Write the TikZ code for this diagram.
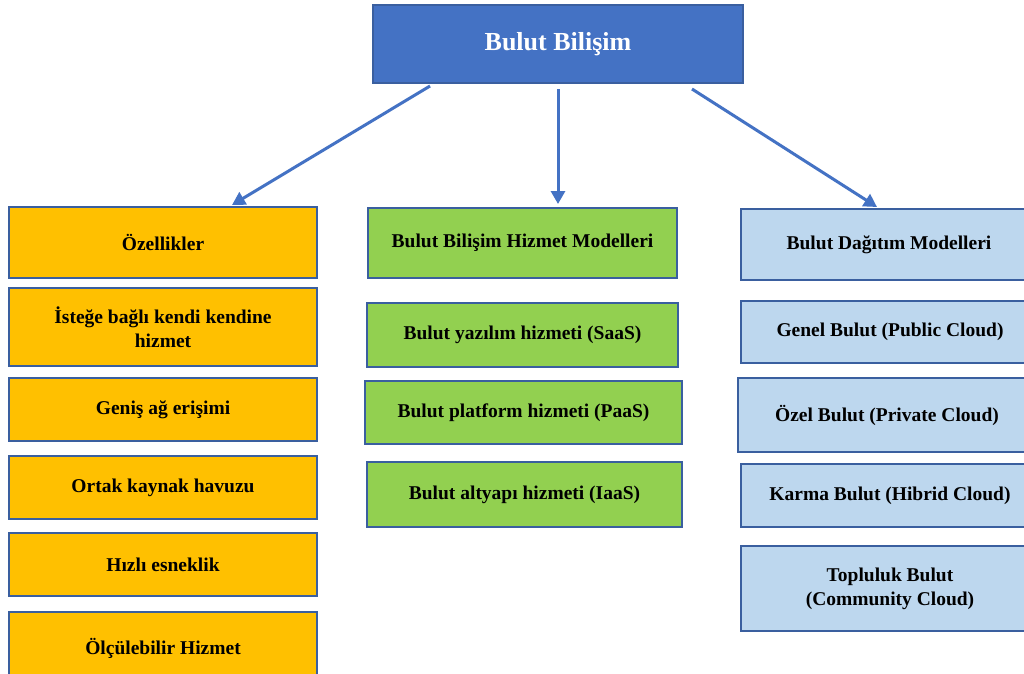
\documentclass[tikz,border=0pt]{standalone}
\usepackage{fontspec}
\setmainfont{Liberation Serif}
\usetikzlibrary{arrows.meta,calc}
\definecolor{topblue}{HTML}{4472C4}
\definecolor{edge}{HTML}{3A5F9F}
\definecolor{org}{HTML}{FFC000}
\definecolor{grn}{HTML}{92D050}
\definecolor{lblue}{HTML}{BDD7EE}
\definecolor{arrcol}{HTML}{4472C4}
\tikzset{
  box/.style={draw=edge, line width=2pt, inner sep=0pt, align=center,
    font=\fontsize{19.5}{24}\selectfont\bfseries, text=black},
  arr/.style={draw=arrcol, line width=3pt, -{Triangle[width=14pt,length=13pt]}}
}
\begin{document}
\begin{tikzpicture}[x=1pt,y=-1pt]
\useasboundingbox (0,0) rectangle (1024,673);
\clip (0,0) rectangle (1024,673);
\fill[white] (0,0) rectangle (1024,673);
% title
\node[box, fill=topblue, text=white, font=\fontsize{26}{30}\selectfont\bfseries,
  minimum width=370pt, minimum height=78pt] (top) at (558,44) {Bulut Bilişim};
% left column
\node[box, fill=org, minimum width=308pt, minimum height=71pt] (l1) at (163,242.5) {Özellikler};
\node[box, fill=org, minimum width=308pt, minimum height=78pt] (l2) at (163,327) {İsteğe bağlı kendi kendine\\hizmet};
\node[box, fill=org, minimum width=308pt, minimum height=63pt] (l3) at (163,409.5) {Geniş ağ erişimi};
\node[box, fill=org, minimum width=308pt, minimum height=63pt] (l4) at (163,487.5) {Ortak kaynak havuzu};
\node[box, fill=org, minimum width=308pt, minimum height=63pt] (l5) at (163,564.5) {Hızlı esneklik};
\node[box, fill=org, minimum width=308pt, minimum height=72pt] (l6) at (163,648) {Ölçülebilir Hizmet};
% middle column
\node[box, fill=grn, minimum width=309pt, minimum height=70pt] (m1) at (522.5,243) {Bulut Bilişim Hizmet Modelleri};
\node[box, fill=grn, minimum width=311pt, minimum height=64pt] (m2) at (522.5,335) {Bulut yazılım hizmeti (SaaS)};
\node[box, fill=grn, minimum width=317pt, minimum height=63pt] (m3) at (523.5,412.5) {Bulut platform hizmeti (PaaS)};
\node[box, fill=grn, minimum width=315pt, minimum height=65pt] (m4) at (524.5,494.5) {Bulut altyapı hizmeti (IaaS)};
% right column
\node[box, fill=lblue, minimum width=296pt, minimum height=71pt] (r1) at (889,244.5) {Bulut Dağıtım Modelleri};
\node[box, fill=lblue, minimum width=298pt, minimum height=62pt] (r2) at (890,332) {Genel Bulut (Public Cloud)};
\node[box, fill=lblue, minimum width=298pt, minimum height=74pt] (r3) at (887,415) {Özel Bulut (Private Cloud)};
\node[box, fill=lblue, minimum width=298pt, minimum height=63pt] (r4) at (890,495.5) {Karma Bulut (Hibrid Cloud)};
\node[box, fill=lblue, minimum width=298pt, minimum height=85pt] (r5) at (890,588.5) {Topluluk Bulut\\(Community Cloud)};
% connectors
\coordinate (s1) at ($(top.south west)+(58,2)$);
\coordinate (s2) at ($(top.south west)+(186,5)$);
\coordinate (s3) at ($(top.south west)+(320,5)$);
\draw[arr] (s1) -- ([xshift=69pt,yshift=1pt]l1.north);
\draw[arr] (s2) -- ([yshift=3pt]s2 |- m1.north);
\draw[arr] (s3) -- ([xshift=-12pt,yshift=1pt]r1.north);
\end{tikzpicture}
\end{document}
